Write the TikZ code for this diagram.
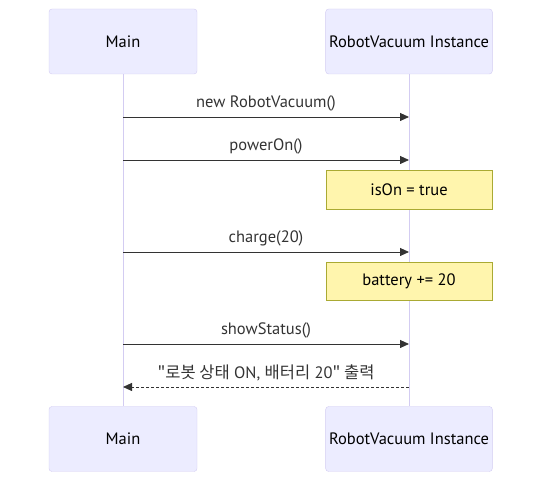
\documentclass[tikz,border=0pt]{standalone}
\usepackage{fontspec}
\setmainfont{PT Sans}
\newfontfamily\krfont{Noto Sans CJK KR}
\usetikzlibrary{arrows.meta}
\definecolor{actorfill}{HTML}{ECECFF}
\definecolor{actorline}{HTML}{D3CCF2}
\definecolor{notefill}{HTML}{FFF5AD}
\definecolor{noteline}{HTML}{AAAA33}
\definecolor{msgline}{HTML}{333333}

\begin{document}
\begin{tikzpicture}[x=1pt,y=1pt,
  actor/.style={rectangle,draw=actorline,fill=actorfill,rounded corners=3pt,minimum height=65pt,font=\fontsize{16.5}{19}\selectfont},
  note/.style={rectangle,draw=noteline,fill=notefill,minimum width=166pt,font=\fontsize{16.5}{19}\selectfont},
  msg/.style={draw=msgline,line width=0.9pt,-{Triangle[length=9pt,width=8pt]}},
  reply/.style={msg,dashed,dash pattern=on 3pt off 2pt},
  lbl/.style={above=2pt,font=\fontsize{16.5}{19}\selectfont,text=msgline}]
\useasboundingbox (0,0) rectangle (550,489);

% participants
\node [actor,minimum width=148pt] (mainT) at (123,447.5) {Main};
\node [actor,minimum width=166pt] (robotT) at (409,447.5) {RobotVacuum Instance};
\node [actor,minimum width=148pt] (mainB) at (123,50) {Main};
\node [actor,minimum width=166pt] (robotB) at (409,50) {RobotVacuum Instance};

% lifelines
\draw [actorline,line width=1pt] (mainT) -- (mainB);
\draw [actorline,line width=1pt] (robotT) -- (robotB);

% points on the lifelines
\coordinate (m1) at (123,372); \coordinate (r1) at (409,372);
\coordinate (m2) at (123,329); \coordinate (r2) at (409,329);
\coordinate (m3) at (123,237); \coordinate (r3) at (409,237);
\coordinate (m4) at (123,145); \coordinate (r4) at (409,145);
\coordinate (m5) at (123,102); \coordinate (r5) at (409,102);

% notes
\node [note,minimum height=39pt] (isOn) at (409,299.5) {isOn = true};
\node [note,minimum height=38pt] (battery) at (409,208) {battery += 20};

% messages
\draw [msg] (m1) -- node [lbl] {new RobotVacuum()} (r1);
\draw [msg] (m2) -- node [lbl] {powerOn()} (r2);
\draw [msg] (m3) -- node [lbl] {charge(20)} (r3);
\draw [msg] (m4) -- node [lbl] {showStatus()} (r4);
\draw [reply] (r5) -- node [lbl] {{\krfont "로봇 상태} ON, {\krfont 배터리} 20{\krfont " 출력}} (m5);
\end{tikzpicture}
\end{document}
